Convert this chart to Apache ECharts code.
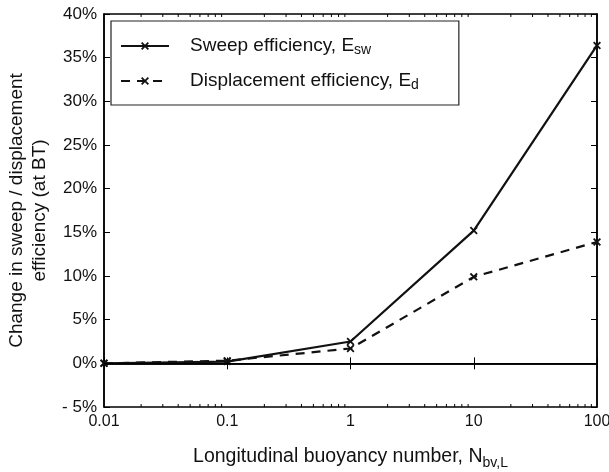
<!DOCTYPE html>
<html><head><meta charset="utf-8">
<script src="https://cdn.jsdelivr.net/npm/echarts@6/dist/echarts.min.js"></script>
<style>html,body{margin:0;padding:0;background:#fff}#c{width:609px;height:472px}</style>
</head><body><div id="c"></div>
<script>
const xValues = [0.01, 0.1, 1, 10, 100];
const sweepValues = [0, 0.2, 2.5, 15.2, 36.4];
const dispValues = [0, 0.3, 1.7, 9.9, 13.9];
const yTicks = [-5, 0, 5, 10, 15, 20, 25, 30, 35, 40];
const xTickLabels = ['0.01', '0.1', '1', '10', '100'];

const FONT = '"Liberation Sans", Arial, sans-serif';
const Y_MIN = -5, Y_MAX = 40;
const minorTicks = [];
for (let d = 0.01; d < 100; d *= 10) for (let k = 2; k <= 9; k++) minorTicks.push(+(d * k).toPrecision(6));

const xSym = 'path://M0,1.6L1.6,0L5,3.4L8.4,0L10,1.6L6.6,5L10,8.4L8.4,10L5,6.6L1.6,10L0,8.4L3.4,5Z';

const chart = echarts.init(document.getElementById('c'), null, {renderer: 'canvas'});
chart.setOption({
  animation: false,
  backgroundColor: '#fff',
  textStyle: {fontFamily: FONT},
  grid: {left: 104, right: 12, top: 14, bottom: 65, containLabel: false, outerBoundsMode: 'none',
    show: true, borderColor: '#000', borderWidth: 1.5, backgroundColor: 'transparent'},
  legend: {
    left: 111, top: 21, orient: 'vertical',
    borderColor: '#222', borderWidth: 1.2, padding: [10, 40, 13, 9],
    itemWidth: 48, itemHeight: 10, itemGap: 9,
    data: ['sweep', 'disp'],
    formatter: function (n) { return n === 'sweep' ? '{m|Sweep efficiency, E}{s|sw}' : '{m|Displacement efficiency, E}{s|d}'; },
    textStyle: {
      fontFamily: FONT, color: '#111', padding: [0, 0, 0, 16],
      rich: {
        m: {fontSize: 19, fontFamily: FONT, color: '#111', lineHeight: 22},
        s: {fontSize: 14, fontFamily: FONT, color: '#111', verticalAlign: 'bottom', padding: [12, 0, 0, 0], lineHeight: 22}
      }
    }
  },
  xAxis: [{
    type: 'log', logBase: 10, min: 0.01, max: 100,
    axisLine: {show: true, lineStyle: {color: '#000', width: 1.5}},
    axisTick: {show: true, inside: true, length: 6, lineStyle: {color: '#000', width: 1}},
    splitLine: {show: false},
    axisLabel: {fontSize: 16, color: '#111', margin: 7, fontFamily: FONT,
      formatter: function (v) { const i = xValues.findIndex(x => Math.abs(x - v) / v < 1e-6); return i >= 0 ? xTickLabels[i] : ''; }},
    name: '{m|Longitudinal buoyancy number, N}{s|bv,L}',
    nameLocation: 'middle', nameGap: 36,
    nameTextStyle: {rich: {
      m: {fontSize: 19.5, fontFamily: FONT, color: '#111'},
      s: {fontSize: 14, fontFamily: FONT, color: '#111', verticalAlign: 'bottom', padding: [13, 0, 0, 0]}
    }}
  }, {
    type: 'log', logBase: 10, min: 0.01, max: 100, position: 'top',
    axisLine: {show: true, lineStyle: {color: '#000', width: 1.5}},
    axisTick: {show: true, inside: true, length: 6, lineStyle: {color: '#000', width: 1}},
    axisLabel: {show: false}, splitLine: {show: false}
  }],
  yAxis: [{
    type: 'value', min: Y_MIN, max: Y_MAX, interval: 5,
    axisLine: {show: true, lineStyle: {color: '#000', width: 1.5}},
    axisTick: {show: true, inside: true, length: 6, lineStyle: {color: '#000', width: 1}},
    splitLine: {show: false},
    axisLabel: {fontSize: 17, color: '#111', margin: 7, fontFamily: FONT,
      formatter: function (v) { return yTicks.includes(v) ? (v < 0 ? '- ' + Math.abs(v) + '%' : v + '%') : ''; }},
    name: 'Change in sweep / displacement\nefficiency (at BT)',
    nameLocation: 'middle', nameGap: 50,
    nameTextStyle: {fontSize: 19, color: '#111', fontFamily: FONT, lineHeight: 23}
  }, {
    type: 'value', min: Y_MIN, max: Y_MAX, interval: 5, position: 'right',
    axisLine: {show: true, lineStyle: {color: '#000', width: 1.5}},
    axisTick: {show: true, inside: true, length: 6, lineStyle: {color: '#000', width: 1}},
    axisLabel: {show: false}, splitLine: {show: false}
  }],
  series: [{
    name: 'sweep', type: 'line',
    data: xValues.map((x, i) => [x, sweepValues[i]]),
    symbol: xSym, symbolSize: 8, showAllSymbol: true,
    lineStyle: {color: '#111', width: 2.2}, itemStyle: {color: '#111'},
    z: 3,
    markLine: {silent: true, symbol: 'none', label: {show: false},
      lineStyle: {color: '#000', width: 1, type: 'solid'}, data: [{yAxis: 0}]}
  }, {
    name: 'disp', type: 'line',
    data: xValues.map((x, i) => [x, dispValues[i]]),
    symbol: xSym, symbolSize: 8, showAllSymbol: true,
    lineStyle: {color: '#111', width: 2.2, type: [9, 7]}, itemStyle: {color: '#111'},
    z: 3
  }, {
    name: 'minor', type: 'custom', silent: true,
    data: minorTicks.map(v => [v, 0]),
    renderItem: function (params, api) {
      const v = api.value(0);
      const b = api.coord([v, Y_MIN]);
      const t = api.coord([v, Y_MAX]);
      return {type: 'group', children: [
        {type: 'line', shape: {x1: b[0], y1: b[1], x2: b[0], y2: b[1] - 3}, style: {stroke: '#000', lineWidth: 1}},
        {type: 'line', shape: {x1: t[0], y1: t[1], x2: t[0], y2: t[1] + 3}, style: {stroke: '#000', lineWidth: 1}}
      ]};
    }
  }]
});
</script></body></html>
